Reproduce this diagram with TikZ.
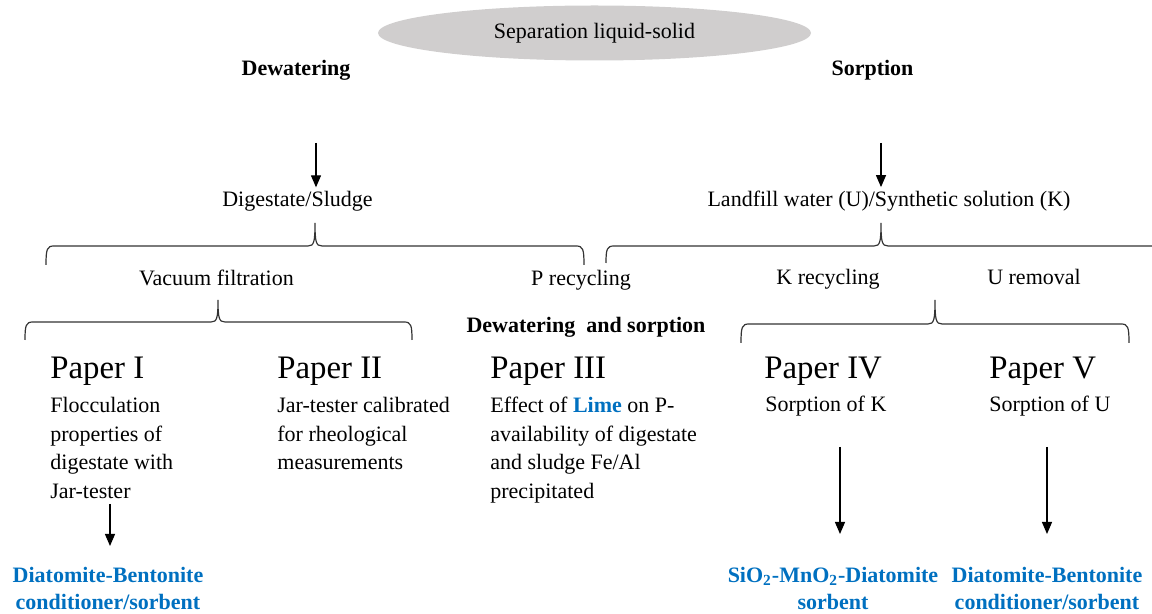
\documentclass[tikz,border=0pt]{standalone}
\usepackage{fontspec}
\setmainfont{Liberation Serif}
\usepackage{xcolor}
\usepackage{tikz}
\usetikzlibrary{shapes.geometric, arrows.meta, positioning}
\definecolor{resblue}{RGB}{0,112,192}
\definecolor{bubblegray}{RGB}{208,206,206}
\tikzset{
    bubble/.style={ellipse, fill=bubblegray, minimum width=216.5pt, minimum height=27.5pt, inner sep=0pt, font=\fontsize{11}{13}\selectfont},
    heading/.style={font=\fontsize{11}{13}\selectfont\bfseries, anchor=base, inner sep=2pt},
    plaintext/.style={font=\fontsize{11}{13}\selectfont, anchor=base, inner sep=2pt},
    paper/.style={font=\fontsize{16.4}{19}\selectfont, anchor=base west, inner sep=0pt},
    paperbody/.style={font=\fontsize{11}{14.25}\selectfont, anchor=north west, align=left, inner sep=0pt},
    result/.style={font=\fontsize{11}{13.3}\selectfont\bfseries, text=resblue, align=center, anchor=north, inner sep=2pt},
    bracepath/.style={draw=black!80, line width=0.6pt},
    flow/.style={-{Triangle[length=6pt,width=5pt]}, line width=0.6pt}
}

\begin{document}
\begin{tikzpicture}[x=0.5pt, y=-0.5pt]
    \useasboundingbox (0,0) rectangle (1152,614);

    % Top
    \node[bubble] (sep) at (594.5,33) {Separation liquid-solid};
    \node[heading] (dewater) at (296,76) {Dewatering};
    \node[heading] (sorp) at (872.5,76) {Sorption};

    % Materials
    \node[plaintext] (sludge) at (297.5,207) {Digestate/Sludge};
    \node[plaintext] (landfill) at (889,207) {Landfill water (U)/Synthetic solution (K)};
    \coordinate (dwtop) at (316,143);
    \coordinate (sptop) at (881,143);
    \draw[flow] (dwtop) -- (dwtop |- sludge.north);
    \draw[flow] (sptop) -- (sptop |- landfill.north);

    % Braces
    \draw[bracepath] (46,265) .. controls (46,249) and (47,246) .. (54,246) -- (308,246) .. controls (314,246) and (315,242) .. (315,223) .. controls (315,242) and (316,246) .. (322,246) -- (576,246) .. controls (583,246) and (584,249) .. (584,265);
    \draw[bracepath] (606,263) .. controls (606,249) and (607,246) .. (614,246) -- (874,246) .. controls (880,246) and (881,242) .. (881,223) .. controls (881,242) and (882,246) .. (888,246) -- (1152,246);
    \draw[bracepath] (25,340) .. controls (25,325) and (26,322) .. (33,322) -- (211,322) .. controls (217,322) and (218,318) .. (218,300) .. controls (218,318) and (219,322) .. (225,322) -- (404,322) .. controls (411,322) and (412,325) .. (412,340);
    \draw[bracepath] (741,343) .. controls (741,327) and (742,324) .. (749,324) -- (928,324) .. controls (934,324) and (935,320) .. (935,300) .. controls (935,320) and (936,324) .. (942,324) -- (1121,324) .. controls (1128,324) and (1129,327) .. (1129,343);

    % Processes
    \node[plaintext] (vacuum) at (216.5,286) {Vacuum filtration};
    \node[plaintext] (precyc) at (581,286) {P recycling};
    \node[plaintext] (krecyc) at (828,285) {K recycling};
    \node[plaintext] (uremov) at (1034,285) {U removal};
    \node[heading] (both) at (586,333) {Dewatering\ \ and sorption};

    % Papers
    \node[paper] (p1) at (50,379) {Paper I};
    \node[paperbody] (p1body) at (50,397) {Flocculation\\ properties of\\ digestate with\\ Jar-tester};
    \node[paper] (p2) at (277,379) {Paper II};
    \node[paperbody] (p2body) at (277,397) {Jar-tester calibrated\\ for rheological\\ measurements};
    \node[paper] (p3) at (490,379) {Paper III};
    \node[paperbody] (p3body) at (490,397) {Effect of {\bfseries\color{resblue}Lime} on P-\\ availability of digestate\\ and sludge Fe/Al\\ precipitated};
    \node[paper] (p4) at (764,379) {Paper IV};
    \node[paperbody] (p4body) at (765,396) {Sorption of K};
    \node[paper] (p5) at (989,379) {Paper V};
    \node[paperbody] (p5body) at (989,396) {Sorption of U};

    % Sorbents
    \node[result] (res1) at (108,563) {Diatomite-Bentonite\\ conditioner/sorbent};
    \node[result] (res4) at (833,563) {SiO\textsubscript{2}-MnO\textsubscript{2}-Diatomite\\ sorbent};
    \node[result] (res5) at (1047,563) {Diatomite-Bentonite\\ conditioner/sorbent};
    \coordinate (a1) at (110,504);
    \coordinate (a4) at (840,447);
    \coordinate (a5) at (1047,447);
    \draw[flow, shorten >=8.5pt] (a1) -- (a1 |- res1.north);
    \draw[flow, shorten >=14.5pt] (a4) -- (a4 |- res4.north);
    \draw[flow, shorten >=14.5pt] (a5) -- (a5 |- res5.north);
\end{tikzpicture}
\end{document}
